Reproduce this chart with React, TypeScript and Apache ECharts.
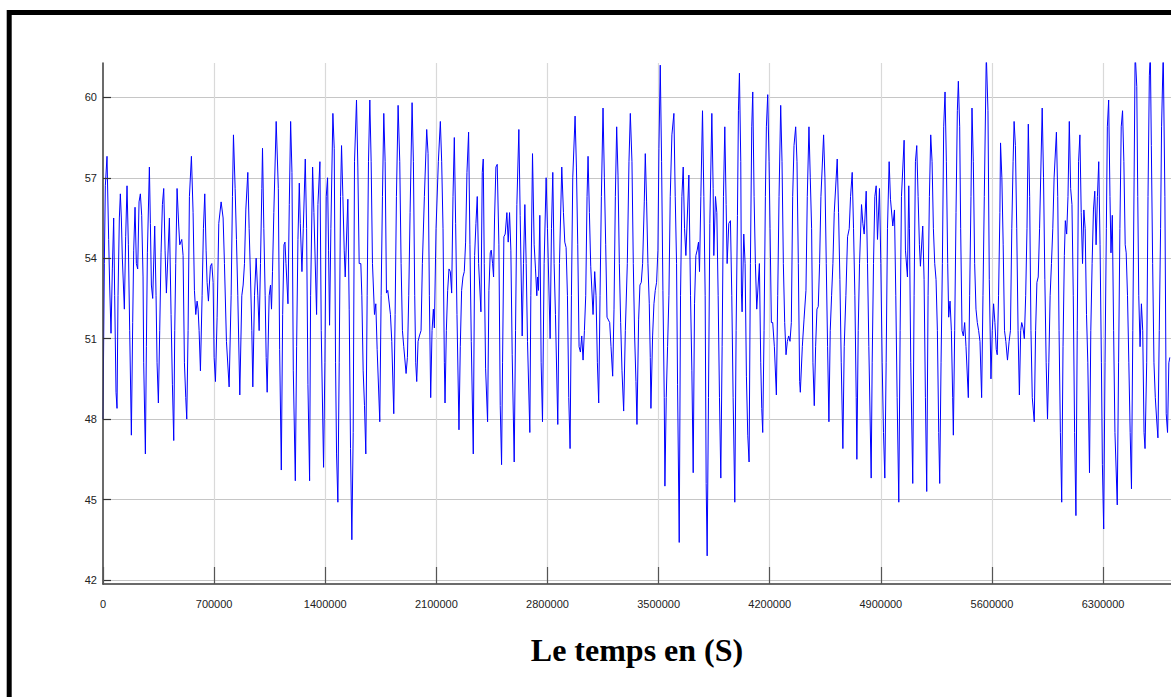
import React, { useEffect, useRef } from "react";
import * as echarts from "echarts";

// Axis ranges and tick positions
const timeMin = 0;
const timeMax = 6728000;
const levelMin = 41.85;
const levelMax = 61.28;
const xTicks = [0, 700000, 1400000, 2100000, 2800000, 3500000, 4200000, 4900000, 5600000, 6300000];
const yTicks = [42, 45, 48, 51, 54, 57, 60];
const axisTitle = "Le temps en (S)";

// Recorded level, [time in s, value], split into consecutive stretches
const segA: [number, number][] = [
  [0, 48.0], [8400, 53.8], [14700, 56.7], [25200, 57.8], [35700, 54.7], [42000, 53.0], [50400, 51.2], [58900, 53.6], [67300, 55.5], [73600, 52.6],
  [82000, 49.0], [88300, 48.4], [94600, 52.6], [103000, 55.5], [109300, 56.4], [115600, 55.5], [121900, 54.0], [134500, 52.1], [142900, 54.8], [151300, 56.7],
  [159800, 54.5], [168200, 51.3], [178700, 47.4], [187100, 51.6], [193400, 54.3], [201800, 55.9], [210200, 53.8], [218600, 53.6], [227000, 56.1], [235400, 56.4],
  [243800, 55.6], [252200, 53.3], [256400, 50.1], [267000, 46.7], [273300, 50.7], [279600, 54.2], [292200, 57.4], [298500, 55.3], [304800, 53.0], [313200, 52.5],
  [325800, 55.2], [334200, 52.6], [340500, 50.1], [348900, 48.6], [357300, 51.3], [365700, 54.2], [374200, 56.0], [382600, 56.6], [391000, 54.3], [399400, 52.7],
  [418300, 55.5], [428800, 51.9], [437200, 49.3], [445600, 47.2], [451900, 51.3], [458200, 53.8], [466600, 56.6], [477100, 55.2], [483500, 54.5], [496100, 54.7],
  [504500, 54.1], [512900, 50.1], [521300, 48.8], [527600, 48.0], [536000, 51.3], [544400, 56.3], [557000, 57.8], [567500, 55.7], [576000, 52.8], [584400, 51.9],
  [592800, 52.4], [599100, 52.1], [605400, 51.3], [613800, 49.8], [624300, 52.6], [632700, 55.1], [641100, 56.4], [649500, 54.3], [655800, 53.1], [664200, 52.4],
  [676800, 53.7], [685300, 53.8], [693700, 53.1], [700000, 50.3], [708400, 49.4], [718900, 51.8], [729400, 55.3], [744100, 56.1], [756700, 55.5], [765100, 53.8],
  [777700, 50.9], [794600, 49.2], [807200, 52.6], [815600, 56.3], [821900, 58.6], [832400, 56.6], [840800, 54.7], [849200, 52.6], [861800, 48.9], [874400, 52.6],
  [882900, 53.0], [891300, 53.8], [899700, 55.8], [912300, 57.2], [920700, 55.1], [929100, 53.3], [937500, 51.3], [943800, 49.2], [954300, 52.6], [964800, 54.0],
  [975300, 52.6], [983700, 51.3], [992100, 53.8], [1000600, 56.6], [1004800, 58.1], [1013200, 55.1], [1021600, 52.6], [1027900, 50.3], [1034200, 49.0], [1046800, 52.6],
  [1055200, 53.0], [1061500, 52.1], [1067800, 53.5], [1076200, 55.7], [1091000, 59.1],
];

const segB: [number, number][] = [
  [1104500, 56.6], [1112800, 50.6], [1123300, 46.1], [1131700, 51.9], [1140000, 54.5], [1146400, 54.6], [1152700, 53.8], [1165200, 52.3], [1173600, 56.0], [1182000, 59.1],
  [1190400, 57.2], [1198800, 49.8], [1211400, 45.7], [1219700, 50.7], [1228100, 54.7], [1236500, 56.8], [1242800, 55.3], [1253300, 53.5], [1261700, 55.1], [1274200, 57.7],
  [1282600, 55.1], [1291000, 49.3], [1301500, 45.7], [1307800, 52.6], [1320400, 57.4], [1328700, 55.7], [1345500, 51.9], [1353900, 56.0], [1366500, 57.6], [1374800, 51.3],
  [1389500, 46.2], [1397900, 50.1], [1406300, 56.3], [1414700, 57.0], [1421000, 54.3], [1427200, 51.5], [1435600, 55.1], [1448200, 59.4], [1456600, 58.1], [1465000, 50.1],
  [1471300, 46.7], [1479600, 44.9], [1488000, 50.1], [1496400, 56.3], [1502700, 58.2], [1511100, 56.3], [1519500, 54.3], [1525800, 53.3], [1542500, 56.2], [1550900, 52.1],
  [1559300, 46.9], [1567700, 43.5], [1576100, 47.5], [1584400, 57.6], [1597000, 59.9], [1605400, 57.4], [1613800, 53.8], [1624300, 53.8], [1630600, 52.6], [1638900, 49.8],
  [1647300, 48.5], [1655700, 46.7], [1664100, 52.6], [1672500, 57.6], [1680900, 59.9], [1689200, 57.6], [1697600, 53.8], [1710200, 51.9], [1718600, 52.3], [1727000, 50.6],
  [1743700, 47.9], [1752100, 52.6], [1760500, 56.3], [1768900, 59.4], [1777300, 57.6], [1785700, 52.7], [1794000, 52.8], [1810800, 51.9], [1819200, 50.9], [1831800, 48.2],
  [1840200, 51.9], [1848500, 56.3], [1859000, 59.7], [1869500, 57.6], [1877900, 53.8], [1886300, 51.3], [1894700, 50.7], [1909300, 49.7], [1917700, 50.3], [1926100, 52.6],
  [1934500, 55.7], [1947100, 59.8], [1955400, 57.6], [1963800, 52.6], [1970100, 50.1], [1976400, 49.4], [1984800, 50.9], [1993200, 51.1], [2003600, 51.3], [2012000, 53.8],
  [2024600, 56.3], [2039300, 58.8], [2047700, 57.9], [2056000, 52.6], [2064400, 48.8], [2072800, 51.3], [2081200, 52.1], [2087500, 51.4], [2098000, 55.1], [2112600, 57.6],
  [2125200, 59.1], [2133600, 57.6], [2142000, 55.1], [2150400, 50.1], [2154600, 48.6], [2163000, 51.3], [2171300, 52.8], [2179700, 53.6], [2188100, 53.5], [2196500, 52.7],
  [2204900, 56.3], [2213200, 58.5],
];

const segC: [number, number][] = [
  [2221500, 55.3], [2229900, 51.9], [2242500, 47.6], [2250800, 50.7], [2259200, 52.8], [2267600, 53.3], [2276000, 53.5], [2284400, 54.6], [2292800, 57.2], [2303200, 58.7],
  [2311600, 54.5], [2320000, 50.9], [2332600, 46.7], [2341000, 54.1], [2349400, 55.3], [2357700, 56.3], [2366100, 53.8], [2380800, 52.0], [2389200, 57.2], [2395500, 57.7],
  [2401800, 53.8], [2410100, 49.9], [2422700, 47.9], [2431100, 52.8], [2439500, 54.2], [2445800, 54.3], [2454200, 53.8], [2460400, 53.3], [2466700, 55.5], [2475100, 57.4],
  [2483500, 57.5], [2494000, 54.5], [2502400, 48.5], [2510800, 46.3], [2517000, 50.1], [2525400, 54.8], [2533800, 54.9], [2544300, 55.7], [2552700, 54.6], [2561100, 55.7],
  [2569400, 54.3], [2577800, 50.4], [2590400, 46.4], [2598800, 51.3], [2607200, 56.0], [2619700, 58.8], [2628100, 55.6], [2640700, 51.1], [2649100, 53.8], [2657500, 56.0],
  [2665900, 53.8], [2674200, 50.9], [2688900, 47.5], [2695200, 52.6], [2705700, 57.9], [2716200, 54.5], [2724500, 53.6], [2732900, 52.6], [2737100, 53.3], [2743400, 52.8],
  [2751800, 55.6], [2760200, 50.1], [2768600, 47.9], [2779000, 53.8], [2791600, 57.0], [2800000, 55.1], [2816800, 51.0], [2825200, 55.1], [2833500, 57.2], [2841900, 53.8],
  [2850300, 51.9], [2865000, 47.8], [2875500, 53.8], [2890100, 57.4], [2900600, 55.7], [2909000, 54.6], [2917400, 54.4], [2925800, 52.6], [2934100, 48.8], [2942500, 46.9],
  [2950900, 52.6], [2959300, 57.0], [2974000, 59.3], [2982400, 57.4], [2990700, 54.5], [2999100, 50.7], [3007500, 50.5], [3015900, 51.1], [3024300, 50.2], [3032700, 51.3],
  [3041000, 52.6], [3049400, 56.3], [3055700, 57.8], [3064100, 55.7], [3072500, 53.7], [3087200, 51.9], [3097600, 53.5], [3106000, 52.6], [3114400, 50.1], [3122800, 48.6],
  [3131200, 52.6], [3139600, 56.3], [3150000, 59.6], [3158400, 57.0], [3166800, 54.5], [3175200, 51.8], [3192000, 51.6], [3200300, 50.7], [3210800, 49.6], [3219200, 52.1],
  [3227600, 56.3], [3236000, 58.9], [3244400, 57.1], [3252700, 53.8], [3261100, 51.6], [3269500, 49.8], [3280000, 48.3], [3290500, 51.3], [3303000, 53.8], [3313500, 57.6],
  [3321900, 59.4],
];

const segD: [number, number][] = [
  [3332300, 57.6], [3340700, 53.8], [3349100, 51.1], [3357500, 49.4], [3363800, 47.8], [3374200, 51.7], [3382600, 53.0], [3391000, 53.1], [3399400, 53.8], [3409900, 56.1],
  [3416200, 57.9], [3424500, 56.1], [3432900, 53.8], [3441300, 52.3], [3447600, 50.3], [3451800, 48.4], [3462300, 51.1], [3470700, 52.3], [3479000, 52.8], [3487400, 53.1],
  [3495800, 54.3], [3502100, 58.1], [3510500, 61.2], [3518900, 57.6], [3527200, 52.8], [3535600, 48.8], [3539800, 45.5], [3548200, 48.8], [3556600, 50.7], [3565000, 52.6],
  [3573400, 56.3], [3583800, 58.6], [3596400, 59.4], [3604800, 56.3], [3613200, 53.8], [3619500, 49.3], [3630000, 43.4], [3638300, 52.6], [3646700, 56.3], [3655100, 57.4],
  [3663500, 55.1], [3671900, 54.1], [3690700, 57.1], [3701200, 52.6], [3709600, 49.8], [3718000, 46.0], [3726400, 52.3], [3734800, 54.1], [3743100, 54.3], [3751500, 54.6],
  [3757800, 53.5], [3766200, 56.3], [3776700, 59.5], [3785100, 56.3], [3793400, 52.6], [3799700, 45.6], [3806000, 42.9], [3814400, 48.8], [3822800, 55.3], [3835400, 59.4],
  [3843700, 56.6], [3847900, 54.1], [3858400, 56.3], [3866800, 55.7], [3875200, 52.6], [3883600, 48.8], [3892000, 45.8], [3900300, 50.7], [3908700, 56.3], [3917100, 58.9],
  [3925500, 56.0], [3931800, 53.8], [3942300, 55.3], [3952700, 55.4], [3961100, 52.6], [3969500, 48.8], [3980000, 44.9], [3988400, 51.3], [3996800, 55.6], [4003000, 59.5],
  [4009300, 60.9], [4017700, 57.6], [4021900, 52.7], [4026100, 52.0], [4036600, 54.9], [4045000, 53.8], [4053300, 49.6], [4061700, 47.4], [4070100, 46.4], [4078500, 53.8],
  [4086900, 58.9], [4093200, 60.2], [4101600, 56.3], [4109900, 53.8], [4118300, 52.1], [4135100, 53.8], [4143500, 50.1], [4149800, 48.4], [4156000, 47.5], [4164400, 51.3],
  [4172800, 56.3], [4179100, 58.9], [4187500, 60.1], [4195900, 57.6], [4202200, 55.1], [4210500, 51.6], [4218900, 51.6], [4229400, 50.7], [4242000, 48.9], [4250400, 52.6],
  [4258800, 56.3], [4269200, 59.7], [4277600, 57.6], [4286000, 53.8], [4294400, 51.6], [4302800, 50.4], [4311200, 50.9], [4319500, 51.1], [4327900, 50.9], [4336300, 51.6],
  [4344700, 56.3], [4353100, 58.2], [4363600, 58.9], [4371900, 57.6], [4380300, 53.8], [4388700, 49.4], [4392900, 49.0], [4405500, 50.7], [4416000, 51.7],
];

const segE: [number, number][] = [
  [4428400, 52.8], [4436800, 56.3], [4447300, 58.9], [4455600, 57.0], [4464000, 55.1], [4472400, 50.1], [4480800, 48.5], [4489200, 50.7], [4497600, 52.1], [4505900, 52.2],
  [4514300, 53.8], [4522700, 56.3], [4539500, 58.6], [4547900, 57.0], [4556300, 53.8], [4564600, 50.7], [4573000, 47.9], [4581400, 51.3], [4589800, 52.6], [4598200, 53.8],
  [4606600, 55.7], [4625400, 57.7], [4633800, 55.7], [4642200, 53.2], [4650600, 50.1], [4661000, 46.9], [4669400, 50.7], [4679900, 52.6], [4690400, 54.8], [4700900, 55.1],
  [4709300, 56.3], [4719700, 57.2], [4728100, 55.1], [4736500, 52.6], [4744900, 48.8], [4749100, 46.5], [4757500, 51.3], [4765900, 53.8], [4778400, 56.0], [4786800, 55.3],
  [4795200, 54.9], [4807800, 56.5], [4816200, 53.8], [4824500, 50.7], [4839200, 45.8], [4845500, 50.1], [4853900, 53.8], [4862300, 56.3], [4870700, 56.7], [4879000, 54.7],
  [4891600, 56.6], [4900000, 53.8], [4908400, 50.1], [4916800, 47.5], [4925200, 45.8], [4933500, 50.1], [4941900, 55.1], [4952400, 57.6], [4960800, 56.2], [4975500, 55.2],
  [4985900, 55.8], [4994300, 52.6], [5002700, 48.8], [5013200, 44.9], [5021600, 51.3], [5030000, 56.3], [5046700, 58.4], [5055100, 54.3], [5067700, 53.3], [5076100, 56.7],
  [5080300, 55.1], [5088600, 50.1], [5101200, 45.6], [5109600, 52.6], [5118000, 57.6], [5126400, 58.2], [5134800, 56.3], [5143100, 54.5], [5149400, 53.7], [5164100, 55.2],
  [5172500, 53.2], [5180900, 48.8], [5189200, 45.3], [5197600, 52.6], [5206000, 56.3], [5214400, 58.6], [5222800, 57.6], [5231200, 55.1], [5239600, 53.8], [5247900, 53.2],
  [5256300, 51.3], [5264700, 47.5], [5271000, 45.6], [5279400, 50.1], [5287800, 53.8], [5296100, 58.9], [5304500, 60.2], [5312900, 57.6], [5321300, 53.8], [5327600, 51.8],
  [5336000, 52.4], [5344400, 51.3], [5352700, 48.8], [5356900, 47.4], [5365300, 51.3], [5373700, 55.7], [5382100, 59.5], [5388400, 60.6], [5396800, 58.9], [5403000, 55.1],
  [5411400, 51.3], [5419800, 51.1], [5428200, 51.6], [5436600, 50.7], [5451200, 48.8], [5459600, 52.6], [5468000, 56.3], [5474300, 59.6], [5482700, 57.6], [5491100, 53.8],
  [5499500, 52.1], [5507800, 51.6], [5516200, 51.3], [5524600, 50.9], [5535100, 48.8], [5543500, 52.6], [5551900, 56.3], [5564400, 61.6],
];

const segF: [number, number][] = [
  [5575000, 59.5], [5583300, 53.2], [5593800, 49.5], [5602100, 51.3], [5610400, 52.3], [5618700, 51.6], [5627100, 50.6], [5633300, 50.4], [5641700, 52.6], [5650000, 55.7],
  [5654200, 58.3], [5662500, 57.0], [5670800, 54.5], [5679200, 51.3], [5687500, 50.9], [5697900, 50.2], [5708300, 50.9], [5716600, 51.3], [5725000, 55.1], [5733300, 57.6],
  [5739600, 59.1], [5747900, 58.2], [5756200, 55.1], [5764600, 51.3], [5772900, 48.9], [5781200, 51.3], [5787500, 51.6], [5795800, 51.4], [5804100, 51.0], [5812500, 52.6],
  [5820800, 55.1], [5829100, 59.0], [5837500, 56.3], [5845800, 51.3], [5854100, 48.8], [5866600, 47.9], [5875000, 51.3], [5883300, 53.1], [5891600, 53.3], [5900000, 55.1],
  [5916600, 59.6], [5925000, 57.0], [5933300, 53.2], [5941600, 50.1], [5950000, 48.0], [5958300, 50.1], [5966600, 52.6], [5974900, 53.8], [5983300, 55.1], [5991600, 57.0],
  [6006200, 58.7], [6014500, 56.3], [6022800, 51.3], [6031200, 47.5], [6039500, 44.9], [6047800, 50.7], [6056200, 54.1], [6062400, 55.4], [6070800, 54.9], [6079100, 56.3],
  [6087400, 59.1], [6095800, 56.6], [6104100, 56.0], [6112400, 52.6], [6120700, 47.5], [6129100, 44.4], [6137400, 51.3], [6145700, 57.6], [6154100, 58.6], [6162400, 55.7],
  [6170700, 53.8], [6179100, 55.8], [6187400, 55.1], [6195700, 51.9], [6204000, 50.1], [6214500, 46.0], [6222800, 51.3], [6231100, 53.8], [6239500, 55.8], [6247800, 56.5],
  [6256100, 54.5], [6264500, 56.3], [6272800, 57.6], [6281100, 54.5], [6289500, 50.1], [6295700, 46.3], [6304000, 43.9], [6312400, 50.1], [6320700, 55.1], [6327000, 58.9],
  [6335300, 59.9], [6343600, 56.3], [6349900, 54.2], [6358200, 55.6], [6366500, 51.3], [6374900, 47.5], [6389400, 44.8], [6397800, 50.1], [6406100, 55.1], [6414400, 58.9],
  [6422800, 59.5], [6431100, 57.6], [6439400, 54.5], [6445700, 54.2], [6454000, 52.6], [6462400, 50.1], [6470700, 47.5], [6479000, 45.4], [6487400, 51.3], [6495700, 57.0],
  [6502000, 61.7], [6512400, 60.4], [6518600, 56.3], [6524900, 52.6], [6533200, 50.7], [6541600, 52.3], [6549900, 51.3], [6558200, 47.5], [6564500, 46.9], [6574900, 50.1],
  [6583200, 56.3], [6591600, 60.8], [6597800, 61.7], [6604100, 58.2], [6612400, 53.8], [6620700, 50.1], [6629100, 48.8], [6637400, 48.0], [6645700, 47.3], [6654100, 51.3],
  [6662400, 55.1], [6668600, 58.9], [6679000, 61.7], [6689500, 56.3], [6697800, 48.2], [6706200, 47.5], [6714500, 50.1], [6720700, 50.3],
];

const labelFont = "'Liberation Sans', Arial, sans-serif";

export default function App() {
  const ref = useRef<HTMLDivElement>(null);

  useEffect(() => {
    document.body.style.margin = "0";
    if (!ref.current) return;
    const chart = echarts.init(ref.current, null, { renderer: "svg" });
    const level = [...segA, ...segB, ...segC, ...segD, ...segE, ...segF];

    // Background grid drawn as mark lines beneath the curve
    const gridLines = [
      ...yTicks.map((v) => ({ yAxis: v, lineStyle: { color: "#c6c6c6", width: 1, type: "solid" } })),
      ...xTicks.slice(1).map((v) => ({ xAxis: v, lineStyle: { color: "#d9d9d9", width: 1.2, type: "solid" } })),
    ];

    chart.setOption({
      animation: false,
      backgroundColor: "#ffffff",
      grid: { left: 103, right: 0, top: 63, bottom: 113, containLabel: false },
      xAxis: {
        type: "value",
        z: 3,
        min: timeMin,
        max: timeMax,
        name: axisTitle,
        nameLocation: "middle",
        nameGap: 50,
        nameTextStyle: {
          fontFamily: "'Liberation Serif', 'Times New Roman', serif",
          fontWeight: "bold",
          fontSize: 32,
          color: "#000000",
        },
        axisLine: { show: true, onZero: false, lineStyle: { color: "#3a3a3a", width: 1.5 } },
        axisTick: { show: true, inside: true, length: 17, customValues: xTicks, lineStyle: { color: "#555555", width: 1.2 } },
        axisLabel: {
          customValues: xTicks,
          margin: 14,
          fontSize: 11,
          color: "#222222",
          fontFamily: labelFont,
          formatter: (v: number) => String(v),
        },
        splitLine: { show: false },
      },
      yAxis: {
        type: "value",
        z: 3,
        min: levelMin,
        max: levelMax,
        axisLine: { show: true, onZero: false, lineStyle: { color: "#3a3a3a", width: 1.5 } },
        axisTick: { show: true, inside: true, length: 8, customValues: yTicks, lineStyle: { color: "#333333", width: 1.2 } },
        axisLabel: {
          customValues: yTicks,
          margin: 6,
          fontSize: 11,
          color: "#222222",
          fontFamily: labelFont,
          formatter: (v: number) => String(v),
        },
        splitLine: { show: false },
      },
      graphic: [
        {
          type: "rect",
          silent: true,
          shape: { x: 9.2, y: 12.5, width: 1300, height: 800 },
          style: { fill: "none", stroke: "#000000", lineWidth: 5 },
        },
      ],
      series: [
        {
          type: "line",
          data: level,
          symbol: "none",
          showSymbol: false,
          clip: true,
          z: 2,
          lineStyle: { color: "#0000ff", width: 1 },
          emphasis: { disabled: true },
          markLine: {
            silent: true,
            z: 1,
            symbol: ["none", "none"],
            label: { show: false },
            emphasis: { disabled: true },
            data: gridLines,
          },
        },
      ],
    });

    return () => chart.dispose();
  }, []);

  return <div ref={ref} style={{ width: 1171, height: 697 }} />;
}
